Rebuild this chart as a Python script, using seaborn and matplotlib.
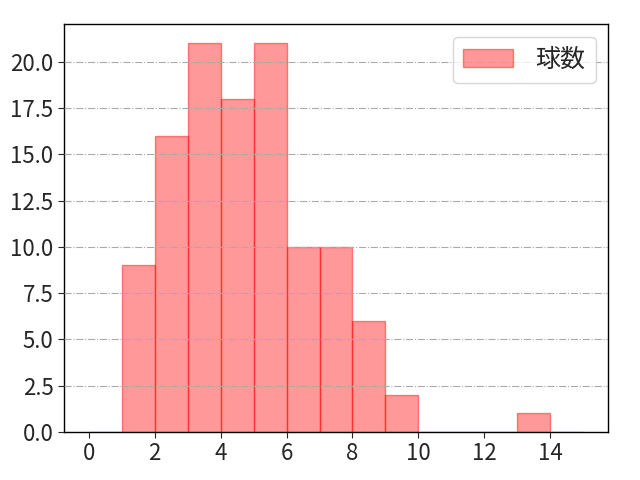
import numpy as np
import pandas as pd
import matplotlib
matplotlib.use("Agg")
import matplotlib.pyplot as plt
import seaborn as sns

# pitches per at-bat histogram data
pitch_counts = [1, 2, 3, 4, 5, 6, 7, 8, 9, 13]
frequency = [9, 16, 21, 18, 21, 10, 10, 6, 2, 1]
bin_edges = list(range(0, 16))
label = "球数"

sns.set_style("white")
plt.rcParams['font.family'] = ['Noto Sans CJK JP', 'DejaVu Sans']

df = pd.DataFrame({"pitches": pitch_counts, "n": frequency})

fig, ax = plt.subplots(figsize=(6.4, 4.8), dpi=100)
fig.subplots_adjust(left=0.1, right=0.95, top=0.95, bottom=0.1)

sns.histplot(data=df, x="pitches", weights="n", bins=bin_edges, ax=ax,
             color="red", alpha=0.4, edgecolor=(1, 0, 0, 0.45), linewidth=1,
             label=label)

ax.set_xlim(-0.75, 15.75)
ax.set_ylim(0, 22.05)
ax.set_xticks(range(0, 15, 2))
ax.set_yticks(np.arange(0, 22, 2.5))
ax.set_xlabel("")
ax.set_ylabel("")
ax.tick_params(labelsize=16, length=4, left=True, bottom=True)
for s in ax.spines.values():
    s.set_color("black")
    s.set_linewidth(1)
ax.grid(axis="y", color="#aaaaaa", linestyle="-.", linewidth=0.8)
ax.set_axisbelow(False)
ax.legend(loc="upper right", fontsize=18, handlelength=2.0, handletextpad=0.9)

plt.savefig("out.png", dpi=100)
